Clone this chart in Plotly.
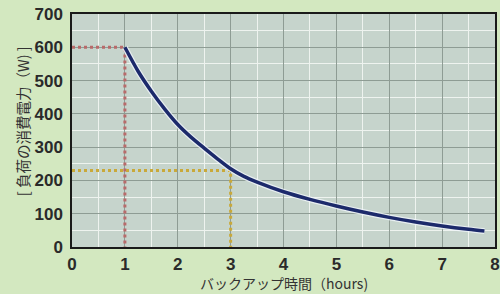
import plotly.graph_objects as go

# Data
hours = [1.0, 1.25, 1.5, 1.75, 2.0, 2.25, 2.5, 2.75, 3.0, 3.25, 3.5, 4.0, 4.5, 5.0, 5.5, 6.0, 6.5, 7.0, 7.5, 7.8]
power = [600, 528, 468, 415, 368, 330, 297, 265, 235, 212, 195, 166, 143, 123, 105, 89, 75, 63, 53, 48]

# Reference guide points
guide1_x = [0, 1, 1]
guide1_y = [600, 600, 0]
guide2_x = [0, 3, 3]
guide2_y = [230, 230, 0]

x_ticks = [0, 1, 2, 3, 4, 5, 6, 7, 8]
y_ticks = [0, 100, 200, 300, 400, 500, 600, 700]

x_title = "バックアップ時間（hours)"
y_title = "[ 負荷の消費電力（W) ]"

fig = go.Figure()

fig.add_trace(go.Scatter(x=guide1_x, y=guide1_y, mode="lines",
                         line=dict(color="#b86a6a", width=3, dash="dot"),
                         hoverinfo="skip", showlegend=False))
fig.add_trace(go.Scatter(x=guide2_x, y=guide2_y, mode="lines",
                         line=dict(color="#c9a93a", width=3, dash="dot"),
                         hoverinfo="skip", showlegend=False))
# white halo under curve
fig.add_trace(go.Scatter(x=hours, y=power, mode="lines",
                         line=dict(color="rgba(240,245,250,0.8)", width=6, shape="spline", smoothing=0.8),
                         hoverinfo="skip", showlegend=False))
fig.add_trace(go.Scatter(x=hours, y=power, mode="lines",
                         line=dict(color="#1c2a6b", width=3.5, shape="spline", smoothing=0.8),
                         showlegend=False))

tickfont = dict(family="Liberation Sans, Arial, sans-serif", size=17, color="#2a2a2a", weight="bold")

fig.update_xaxes(range=[0, 8], tickvals=x_ticks, ticktext=[str(v) for v in x_ticks],
                 showgrid=True, gridcolor="#8e9c94", gridwidth=1,
                 minor=dict(dtick=0.5, showgrid=True, gridcolor="#eef3ef", gridwidth=1),
                 showline=True, linecolor="#1a1a1a", linewidth=1.5, mirror=True,
                 zeroline=False, ticks="", tickfont=tickfont, ticklabelstandoff=1,
                 automargin=False)
fig.update_yaxes(range=[0, 700], tickvals=y_ticks, ticktext=[str(v) for v in y_ticks],
                 showgrid=True, gridcolor="#8e9c94", gridwidth=1,
                 minor=dict(dtick=50, showgrid=True, gridcolor="#eef3ef", gridwidth=1),
                 showline=True, linecolor="#1a1a1a", linewidth=1.5, mirror=True,
                 zeroline=False, ticks="", tickfont=tickfont, ticklabelstandoff=4,
                 automargin=False)

fig.update_layout(
    width=500, height=294,
    margin=dict(l=72, r=5, t=14, b=47, autoexpand=False),
    paper_bgcolor="#d3e8c0",
    plot_bgcolor="#c6d4cc",
    annotations=[
        dict(text=x_title, xref="paper", yref="paper", x=0.5, y=0, yshift=-36,
             showarrow=False, xanchor="center", yanchor="middle",
             font=dict(family="Noto Sans CJK JP, sans-serif", size=14, color="#333333")),
        dict(text=y_title, xref="paper", yref="paper", x=0, y=0.54, xshift=-50,
             textangle=-90, showarrow=False, xanchor="center", yanchor="middle",
             font=dict(family="Noto Sans CJK JP, sans-serif", size=14.5, color="#333333")),
    ],
)

fig.write_html("out.html", config={"displayModeBar": False},
               post_script="document.body.style.margin='0';document.body.style.overflow='hidden';")
